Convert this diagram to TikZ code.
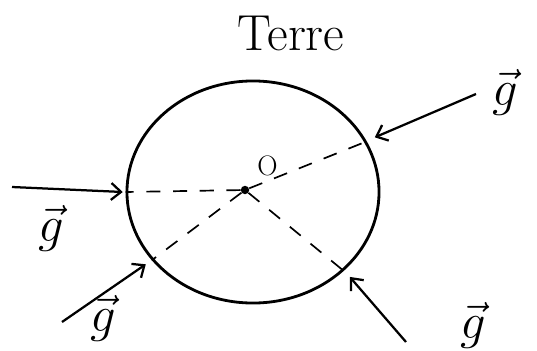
\RequirePackage{fix-cm}
\documentclass[tikz,border=0pt]{standalone}
\usepackage{amsmath,amssymb}
\usetikzlibrary{arrows.meta,positioning,shapes.geometric}

\begin{document}
\begin{tikzpicture}[
    x=0.025cm, y=0.025cm,
    planete/.style={ellipse, draw=black, line width=2pt, minimum width=6.3cm, minimum height=5.55cm, inner sep=0pt},
    centre/.style={circle, fill=black, inner sep=0pt, minimum size=6pt},
    rayon/.style={line width=1.2pt, dash pattern=on 10pt off 9pt},
    fleche/.style={-{Straight Barb[length=7pt,width=12pt]}, line width=1.6pt},
    vecteur/.style={font=\fontsize{36}{42}\selectfont, inner sep=0pt}
]
\useasboundingbox (0,0) rectangle (537,350);

% Terre
\node[planete] (terre) at (253,158) {};
\node[font=\fontsize{36}{42}\selectfont] (nom) at (291,317) {Terre};

% Centre O
\node[centre] (O) at (245,160) {};
\node[font=\fontsize{20}{24}\selectfont, above right=4pt and 3pt of O] (lbO) {O};

% Rayons vers la surface
\draw[rayon] (O) -- (terre.180);
\draw[rayon] (O) -- (terre.24);
\draw[rayon] (O) -- (terre.214);
\draw[rayon] (O) -- (terre.319);

% Origines des vecteurs
\coordinate (t1) at (12,163);
\coordinate (t2) at (476,256);
\coordinate (t3) at (62,28);
\coordinate (t4) at (406,8);

% Vecteurs g
\draw[fleche] (t1) -- ([xshift=-2pt]terre.180);
\draw[fleche] (t2) -- ([shift={(8,4)}]terre.24);
\draw[fleche] (t3) -- ([shift={(-6,-4)}]terre.214);
\draw[fleche] (t4) -- ([shift={(6,-6)}]terre.319);

% Etiquettes
\node[vecteur] (g1) at (51,122) {$\vec g$};
\node[vecteur] (g2) at (505,258) {$\vec g$};
\node[vecteur] (g3) at (103,32) {$\vec g$};
\node[vecteur] (g4) at (473,25) {$\vec g$};

\end{tikzpicture}
\end{document}
